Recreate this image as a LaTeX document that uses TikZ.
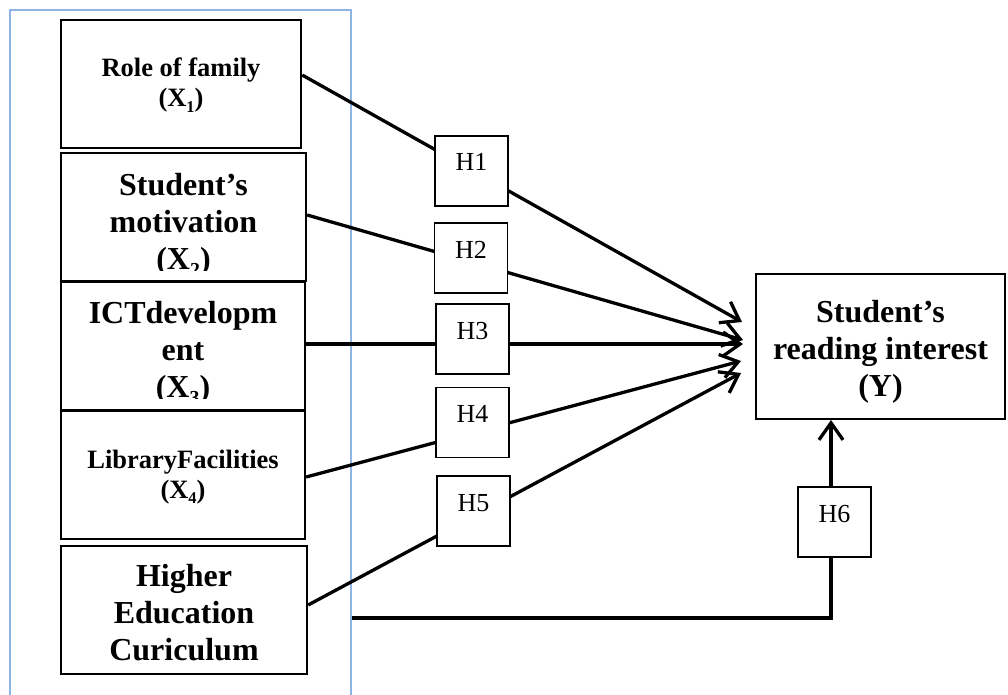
\documentclass[tikz,border=0pt]{standalone}
\usepackage{fontspec}
\setmainfont{Liberation Serif}
\usepackage{graphicx}
\usetikzlibrary{arrows.meta}
\definecolor{frameblue}{RGB}{141,180,226}
\newcommand{\sbs}[1]{\raisebox{-0.22em}{\scalebox{0.62}{#1}}}
\newcommand{\cutline}[1]{\tikz[baseline=0pt,x=1pt,y=1pt]{\clip (-60,-1.5) rectangle (60,26); \node[inner sep=0pt,anchor=base,draw=none,fill=none] (cut) at (0,0) {#1};}}
\begin{document}
\begin{tikzpicture}[x=1pt,y=-1pt,
  varbox/.style={draw, line width=2.3pt, fill=white, align=center, inner sep=0pt},
  bigtxt/.style={font=\bfseries\fontsize{32}{37}\selectfont},
  smalltxt/.style={font=\bfseries\fontsize{26.5}{30}\selectfont},
  hbox/.style={draw, line width=1.3pt, fill=white, minimum width=73pt, text height=35pt, text depth=35pt, inner sep=0pt, font=\fontsize{26}{30}\selectfont},
  conn/.style={line width=3.3pt},
  arr/.style={conn, -{Straight Barb[length=17pt,width=24pt]}},
]
\useasboundingbox (0,0) rectangle (1008,695);
% frame
\draw[frameblue, line width=1.2pt] (10,695) -- (10,10) -- (351,10) -- (351,695);
% variable boxes
\node[varbox, smalltxt, minimum width=240pt, text height=87pt, text depth=41pt] (b1) at (181,84) {Role of family\\(X\sbs{1})};
\node[varbox, bigtxt, minimum width=245pt, text height=116pt, text depth=12pt] (b2) at (183.5,217) {Student's\\motivation\\\cutline{(X\sbs{2})}};
\node[varbox, bigtxt, minimum width=244pt, text height=115pt, text depth=13pt] (b3) at (183,346) {ICTdevelopm\\ent\\\cutline{(X\sbs{3})}};
\node[varbox, smalltxt, minimum width=244pt, text height=87pt, text depth=41pt] (b4) at (183,475) {LibraryFacilities\\(X\sbs{4})};
\node[varbox, bigtxt, minimum width=246pt, text height=114pt, text depth=14pt] (b5) at (184,610) {Higher\\Education\\Curiculum};
\node[varbox, bigtxt, line width=2pt, minimum width=249pt, text height=122pt, text depth=23pt] (Y) at (880.5,346.5) {Student's\\reading interest\\(Y)};
% arrow targets
\coordinate (t1) at (742,322);
\coordinate (t2) at (743,340);
\coordinate (t3) at (743,344);
\coordinate (t4) at (741,361);
\coordinate (t5) at (741,373);
\coordinate (s6) at (352,618);
% connectors
\draw[arr] ([yshift=9pt]b1.east) -- (t1);
\draw[arr] ([yshift=2pt]b2.east) -- (t2);
\draw[arr] ([yshift=2pt]b3.east) -- (t3);
\draw[arr] ([yshift=-2pt]b4.east) -- (t4);
\draw[arr] ([yshift=5pt]b5.east) -- (t5);
\draw[arr] (s6) -| ([xshift=-49.5pt]Y.south);
% hypothesis boxes
\node[hbox] (h1) at (471.5,171) {H1};
\node[hbox] (h2) at (471,258) {H2};
\node[hbox] (h3) at (472.5,339) {H3};
\node[hbox] (h4) at (472.5,422.5) {H4};
\node[hbox] (h5) at (473.5,511) {H5};
\node[hbox] (h6) at (834.5,522) {H6};
\end{tikzpicture}
\end{document}
